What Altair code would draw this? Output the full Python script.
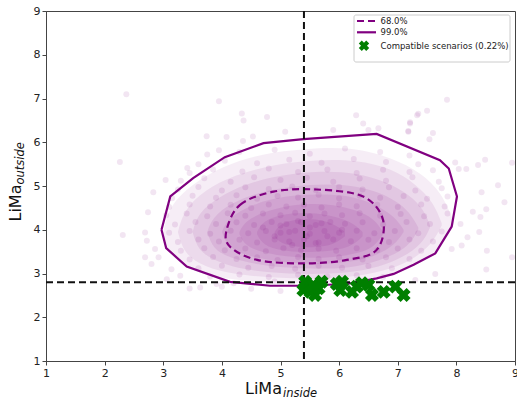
import altair as alt
import pandas as pd

# ---------------- data ----------------
# 99% contour (solid, closed polygon)
c99_x = [2.97, 3.12, 3.51, 4.05, 4.71, 5.39, 6.64, 7.72, 7.87, 8.01, 7.92, 7.64, 7.27, 6.93, 6.64, 6.13, 5.39, 4.82, 4.14, 3.40, 3.05, 2.97]
c99_y = [4.00, 4.76, 5.18, 5.66, 5.98, 6.07, 6.19, 5.59, 5.40, 4.76, 4.07, 3.46, 3.20, 2.99, 2.89, 2.76, 2.72, 2.72, 2.81, 3.16, 3.58, 4.00]

# 68% contour (dashed, closed smooth curve)
c68_x = [4.08, 4.31, 4.88, 5.62, 6.41, 6.75, 6.64, 6.13, 5.39, 4.60, 4.14]
c68_y = [3.99, 4.57, 4.87, 4.92, 4.76, 4.22, 3.54, 3.31, 3.23, 3.31, 3.61]

# reference thresholds
x_thr = 5.4
y_thr = 2.8

# compatible scenarios (green X)
comp_x = [5.42, 5.39, 5.51, 5.59, 5.65, 5.56, 5.70, 5.96, 6.02, 6.05, 6.22, 6.30, 6.39, 6.50, 6.56, 6.76, 6.96, 7.10]
comp_y = [2.81, 2.62, 2.58, 2.51, 2.66, 2.74, 2.81, 2.76, 2.62, 2.81, 2.58, 2.70, 2.78, 2.74, 2.51, 2.58, 2.70, 2.51]

# density haze levels (outer -> inner): x, upper edge, lower edge
haze_x = [
    [3.0, 3.1, 3.5, 4.0, 4.7, 5.4, 6.2, 6.9, 7.4, 7.75, 7.95],
    [3.25, 3.35, 3.7, 4.2, 4.9, 5.6, 6.3, 6.9, 7.3, 7.6, 7.75],
    [3.5, 3.6, 3.95, 4.4, 5.0, 5.7, 6.3, 6.8, 7.2, 7.45, 7.55],
    [3.75, 3.85, 4.15, 4.6, 5.2, 5.8, 6.3, 6.7, 7.05, 7.25, 7.35],
    [4.0, 4.1, 4.4, 4.8, 5.3, 5.8, 6.3, 6.65, 6.95, 7.1],
    [4.3, 4.4, 4.7, 5.1, 5.5, 5.9, 6.3, 6.6, 6.75],
    [4.6, 4.7, 5.0, 5.4, 5.8, 6.2, 6.4],
    [4.9, 5.0, 5.3, 5.6, 5.9, 6.1],
]
haze_top = [
    [3.95, 4.55, 5.05, 5.45, 5.75, 5.85, 5.9, 5.65, 5.3, 4.85, 4.2],
    [3.95, 4.45, 4.9, 5.25, 5.5, 5.6, 5.6, 5.4, 5.05, 4.65, 4.15],
    [3.95, 4.4, 4.75, 5.05, 5.25, 5.35, 5.3, 5.1, 4.8, 4.45, 4.1],
    [3.95, 4.3, 4.6, 4.85, 5.0, 5.05, 5.0, 4.85, 4.6, 4.3, 4.05],
    [3.95, 4.25, 4.5, 4.7, 4.8, 4.82, 4.75, 4.55, 4.3, 4.0],
    [3.95, 4.2, 4.4, 4.55, 4.6, 4.58, 4.45, 4.25, 3.95],
    [3.95, 4.2, 4.35, 4.4, 4.35, 4.2, 3.95],
    [3.95, 4.15, 4.25, 4.25, 4.15, 3.95],
]
haze_bot = [
    [3.95, 3.4, 3.05, 2.88, 2.8, 2.78, 2.8, 2.98, 3.25, 3.6, 4.1],
    [3.95, 3.45, 3.15, 2.98, 2.9, 2.88, 2.92, 3.1, 3.35, 3.7, 4.1],
    [3.95, 3.5, 3.25, 3.08, 3.0, 2.98, 3.03, 3.2, 3.45, 3.75, 4.05],
    [3.95, 3.55, 3.35, 3.2, 3.12, 3.1, 3.15, 3.3, 3.5, 3.75, 4.0],
    [3.95, 3.6, 3.42, 3.3, 3.22, 3.22, 3.28, 3.42, 3.65, 3.95],
    [3.9, 3.62, 3.48, 3.38, 3.35, 3.37, 3.45, 3.6, 3.9],
    [3.9, 3.65, 3.52, 3.48, 3.5, 3.6, 3.85],
    [3.85, 3.68, 3.6, 3.6, 3.65, 3.85],
]
haze_op = [0.07, 0.08, 0.085, 0.09, 0.09, 0.095, 0.095, 0.1]

# individual scenario points (sample of the cloud)
cloud = [
    (3.75,5.72),(4.3,5.78),(4.9,5.83),(5.5,5.74),(6.1,5.86),(6.7,5.78),(7.2,5.70),
    (3.6,5.5),(4.05,5.58),(4.6,5.52),(5.15,5.6),(5.7,5.53),(6.25,5.62),(6.8,5.55),(7.35,5.5),
    (3.45,5.3),(3.85,5.38),(4.35,5.33),(4.8,5.4),(5.3,5.32),(5.8,5.38),(6.3,5.3),(6.75,5.37),(7.2,5.32),(7.6,5.36),
    (3.3,5.12),(3.7,5.18),(4.15,5.1),(4.55,5.2),(5.0,5.14),(5.45,5.19),(5.9,5.1),(6.35,5.17),(6.8,5.12),(7.25,5.2),(7.7,5.1),
    (3.25,4.92),(3.6,4.98),(4.0,4.9),(4.4,4.97),(4.8,4.93),(5.2,4.99),(5.6,4.91),(6.0,4.98),(6.4,4.92),(6.85,4.97),(7.3,4.9),(7.75,4.95),
    (3.15,4.72),(3.5,4.78),(3.9,4.73),(4.25,4.79),(4.6,4.71),(4.95,4.77),(5.3,4.74),(5.65,4.8),(6.0,4.72),(6.35,4.78),(6.7,4.73),(7.1,4.77),(7.5,4.71),(7.85,4.76),
    (3.1,4.52),(3.45,4.58),(3.8,4.53),(4.15,4.57),(4.5,4.5),(4.8,4.58),(5.1,4.53),(5.4,4.57),(5.7,4.51),(6.0,4.58),(6.3,4.54),(6.65,4.57),(7.0,4.52),(7.4,4.58),(7.8,4.53),
    (3.05,4.33),(3.4,4.37),(3.75,4.31),(4.1,4.38),(4.4,4.32),(4.7,4.37),(5.0,4.33),(5.25,4.39),(5.5,4.31),(5.75,4.37),(6.05,4.33),(6.35,4.38),(6.7,4.32),(7.05,4.36),(7.45,4.31),(7.85,4.37),
    (3.2,4.12),(3.55,4.18),(3.9,4.13),(4.25,4.17),(4.55,4.11),(4.85,4.18),(5.1,4.13),(5.35,4.17),(5.6,4.11),(5.85,4.18),(6.1,4.14),(6.4,4.17),(6.75,4.12),(7.15,4.18),(7.55,4.13),
    (3.1,3.93),(3.45,3.97),(3.8,3.91),(4.15,3.98),(4.45,3.92),(4.75,3.97),(5.0,3.93),(5.25,3.98),(5.5,3.91),(5.75,3.97),(6.0,3.93),(6.3,3.98),(6.6,3.92),(6.95,3.97),(7.35,3.92),(7.75,3.96),
    (3.25,3.72),(3.6,3.78),(3.95,3.73),(4.3,3.77),(4.6,3.71),(4.9,3.78),(5.15,3.73),(5.4,3.77),(5.65,3.71),(5.9,3.78),(6.2,3.74),(6.5,3.77),(6.85,3.72),(7.2,3.78),(7.6,3.73),
    (3.3,3.52),(3.7,3.58),(4.05,3.53),(4.4,3.57),(4.75,3.51),(5.05,3.58),(5.35,3.53),(5.65,3.57),(5.95,3.52),(6.3,3.58),(6.65,3.53),(7.0,3.57),(7.4,3.52),
    (3.45,3.32),(3.85,3.38),(4.25,3.33),(4.6,3.37),(4.95,3.31),(5.3,3.38),(5.65,3.33),(6.0,3.37),(6.4,3.32),(6.8,3.37),(7.2,3.33),
    (3.6,3.12),(4.0,3.18),(4.45,3.13),(4.85,3.17),(5.25,3.11),(5.65,3.18),(6.05,3.13),(6.5,3.17),(6.9,3.12),
    (3.8,2.93),(4.3,2.98),(4.8,2.92),(5.3,2.97),(5.8,2.93),(6.3,2.96),(6.75,2.92),
    (4.2,2.78),(4.9,2.82),(5.6,2.77),(6.3,2.8),
    (4.9,3.85),(5.2,3.65),(5.5,4.05),(5.8,3.85),(5.3,4.2),(5.6,3.7),(5.0,4.1),(6.05,4.0),(4.7,4.05),(5.45,3.85),(5.7,4.15),(5.15,3.95),
    (2.37,7.1),(3.95,6.94),(4.34,6.66),(4.37,6.5),(4.77,6.58),(2.26,5.55),(3.74,6.14),(4.08,6.12),(4.36,6.03),(4.53,6.13),
    (5.08,6.24),(3.95,5.82),(3.41,5.41),(3.04,5.14),(2.83,4.86),(7.84,6.97),(7.5,6.72),(7.35,6.65),(7.21,6.46),(7.18,6.26),
    (7.54,6.07),(7.6,6.21),(8.49,5.6),(8.37,5.48),(8.95,5.53),(8.71,5.02),(8.82,4.63),(8.43,4.86),(8.28,4.41),(8.41,4.29),
    (8.51,4.47),(8.39,3.95),(8.19,3.83),(8.52,3.52),(8.95,3.37),(8.51,3.09),(8.09,3.64),(8.07,4.13),(7.92,3.56),(7.64,2.99),
    (8.04,5.39),(8.17,5.39),(7.98,5.54),(2.31,3.88),(2.69,3.94),(2.74,4.4),(2.72,3.75),(2.69,3.37),(2.8,3.22),(2.92,3.37),
    (2.86,3.56),(3.14,3.1),(3.29,2.95),(3.45,2.66),(3.63,2.68),(3.91,2.76),(3.06,2.87),
    (5.9,6.28),(6.29,6.62),(6.41,6.43),(6.5,6.28),(6.67,6.32),(7.21,6.43),(7.33,6.62),(7.18,6.24),
    (4.5,2.65),(5.0,2.6),(7.3,2.85),(4.0,2.7),
]
cloud_x = [p[0] for p in cloud]
cloud_y = [p[1] for p in cloud]

legend_labels = ["68.0%", "99.0%", "Compatible scenarios (0.22%)"]
x_ticks = [1, 2, 3, 4, 5, 6, 7, 8, 9]
y_ticks = [1, 2, 3, 4, 5, 6, 7, 8, 9]

# ---------------- chart ----------------
PURPLE = "#800080"
FONT = "DejaVu Sans"
xs = alt.Scale(domain=[1, 9], nice=False, zero=False)
ys = alt.Scale(domain=[1, 9], nice=False, zero=False)
x_axis = alt.Axis(values=x_ticks, title=None, grid=False, format="d",
                  labelFont=FONT, labelFontSize=11, labelColor="#222",
                  domainColor="#444", tickColor="#444", tickSize=4,
                  labelPadding=2, labelFlush=False, labelOverlap=False)
y_axis = alt.Axis(values=y_ticks, title=None, grid=False, format="d",
                  labelFont=FONT, labelFontSize=11, labelColor="#222",
                  domainColor="#444", tickColor="#444", tickSize=4,
                  labelPadding=2, labelFlush=False, labelOverlap=False)


def X(f):
    return alt.X(f, scale=xs, axis=x_axis, title=None)


def Y(f):
    return alt.Y(f, scale=ys, axis=y_axis, title=None)


layers = []

for i in range(len(haze_x)):
    d = pd.DataFrame({"x": haze_x[i], "top": haze_top[i], "bot": haze_bot[i]})
    layers.append(
        alt.Chart(d).mark_area(interpolate="basis", color=PURPLE, opacity=haze_op[i], strokeWidth=0)
        .encode(x=X("x:Q"), y=Y("top:Q"), y2="bot:Q")
    )

pts = pd.DataFrame({"x": cloud_x, "y": cloud_y})
layers.append(
    alt.Chart(pts).mark_circle(size=36, color=PURPLE, opacity=0.1)
    .encode(x=X("x:Q"), y=Y("y:Q"))
)

d99 = pd.DataFrame({"x": c99_x, "y": c99_y, "o": list(range(len(c99_x)))})
layers.append(
    alt.Chart(d99).mark_line(color=PURPLE, strokeWidth=2.2)
    .encode(x=X("x:Q"), y=Y("y:Q"), order="o:Q")
)

d68 = pd.DataFrame({"x": c68_x, "y": c68_y, "o": list(range(len(c68_x)))})
layers.append(
    alt.Chart(d68).mark_line(color=PURPLE, strokeWidth=2.2, strokeDash=[7, 4], interpolate="cardinal-closed")
    .encode(x=X("x:Q"), y=Y("y:Q"), order="o:Q")
)

vline = pd.DataFrame({"x": [x_thr]})
layers.append(
    alt.Chart(vline).mark_rule(color="#111", strokeWidth=2, strokeDash=[7, 4])
    .encode(x=X("x:Q"))
)
hline = pd.DataFrame({"y": [y_thr]})
layers.append(
    alt.Chart(hline).mark_rule(color="#111", strokeWidth=2, strokeDash=[7, 4])
    .encode(y=Y("y:Q"))
)

comp = pd.DataFrame({"x": comp_x, "y": comp_y})
layers.append(
    alt.Chart(comp).mark_point(shape="cross", angle=45, filled=True, size=200, color="#007f00", opacity=1)
    .encode(x=X("x:Q"), y=Y("y:Q"))
)

one = pd.DataFrame({"a": [0]})
# axis titles with subscripts
layers.append(alt.Chart(one).mark_text(text="LiMa", font=FONT, fontSize=16, align="left", baseline="alphabetic", color="#111")
              .encode(x=alt.value(199), y=alt.value(383)))
layers.append(alt.Chart(one).mark_text(text="inside", font=FONT, fontSize=11.5, fontStyle="italic", align="left", baseline="alphabetic", color="#111")
              .encode(x=alt.value(237), y=alt.value(385.5)))
layers.append(alt.Chart(one).mark_text(text="LiMa", font=FONT, fontSize=16, align="left", baseline="alphabetic", angle=270, color="#111")
              .encode(x=alt.value(-25), y=alt.value(210.5)))
layers.append(alt.Chart(one).mark_text(text="outside", font=FONT, fontSize=11.5, fontStyle="italic", align="left", baseline="alphabetic", angle=270, color="#111")
              .encode(x=alt.value(-22), y=alt.value(173.5)))

# legend
layers.append(alt.Chart(one).mark_rect(fill="white", fillOpacity=0.85, stroke="#cccccc", strokeWidth=1, cornerRadius=2)
              .encode(x=alt.value(308), x2=alt.value(464), y=alt.value(4), y2=alt.value(51)))
layers.append(alt.Chart(one).mark_rule(color=PURPLE, strokeWidth=2.2, strokeDash=[7, 4])
              .encode(x=alt.value(311), x2=alt.value(330), y=alt.value(10)))
layers.append(alt.Chart(one).mark_rule(color=PURPLE, strokeWidth=2.2)
              .encode(x=alt.value(311), x2=alt.value(330), y=alt.value(21.3)))
layers.append(alt.Chart(one).mark_point(shape="cross", angle=45, filled=True, size=110, color="#007f00", opacity=1)
              .encode(x=alt.value(318), y=alt.value(34.7)))
leg = pd.DataFrame({"t": legend_labels, "py": [10, 21.3, 34.7]})
layers.append(alt.Chart(leg).mark_text(font=FONT, fontSize=8.5, align="left", baseline="middle", color="#222")
              .encode(text="t:N", x=alt.value(334.5), y=alt.Y("py:Q", scale=None)))

chart = (
    alt.layer(*layers)
    .properties(width=469, height=350, padding={"left": 46, "top": 11, "right": 2, "bottom": 37},
                autosize=alt.AutoSizeParams(type="none"), background="white")
    .configure_view(stroke="#444", strokeWidth=1)
)

chart.save("out.html", embed_options={"renderer": "svg", "actions": False})
